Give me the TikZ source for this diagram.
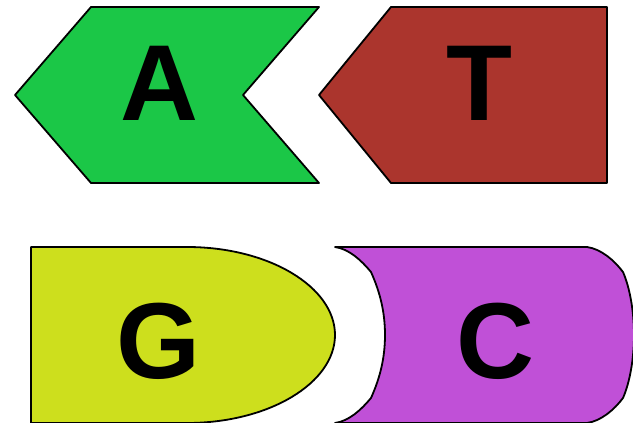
\documentclass[tikz,border=0pt]{standalone}
\usepackage{fontspec}
\setmainfont{Liberation Sans}
\tikzset{
  base/.style={draw=black,line width=1.8pt,line join=round},
  letter/.style={anchor=base,inner sep=0pt,font=\fontsize{108}{108}\selectfont\bfseries,text=black}
}
\definecolor{cA}{RGB}{27,199,71}
\definecolor{cT}{RGB}{171,53,45}
\definecolor{cG}{RGB}{205,223,29}
\definecolor{cC}{RGB}{192,80,215}
\begin{document}
\begin{tikzpicture}[x=1pt,y=-1pt]
\useasboundingbox (0,0) rectangle (633,423);
\draw[base,fill=cA] (91,7) -- (319,7) -- (243,95) -- (319,183) -- (91,183) -- (15,95) -- cycle;
\draw[base,fill=cT] (319,95) -- (391,7) -- (607,7) -- (607,183) -- (391,183) -- cycle;
\draw[base,fill=cG] (31,247) -- (187,247) .. controls (269,247) and (335,287) .. (335,335) .. controls (335,383) and (269,423) .. (187,423) -- (31,423) -- cycle;
\draw[base,fill=cC] (335,247) -- (587,247) .. controls (601,249) and (614,260) .. (623,272)
  .. controls (630,288) and (634,312) .. (634,335)
  .. controls (634,358) and (630,382) .. (623,398)
  .. controls (614,410) and (601,421) .. (587,423) -- (335,423)
  .. controls (349,421) and (361,410) .. (371,398)
  .. controls (380,378) and (385,358) .. (385,335)
  .. controls (385,312) and (380,292) .. (371,272)
  .. controls (361,260) and (349,249) .. (335,247) -- cycle;
\node[letter] (a) at (159,120) {A};
\node[letter] (t) at (479,120) {T};
\node[letter] (g) at (159,378) {G};
\node[letter] (c) at (495,378) {C};
\end{tikzpicture}
\end{document}
